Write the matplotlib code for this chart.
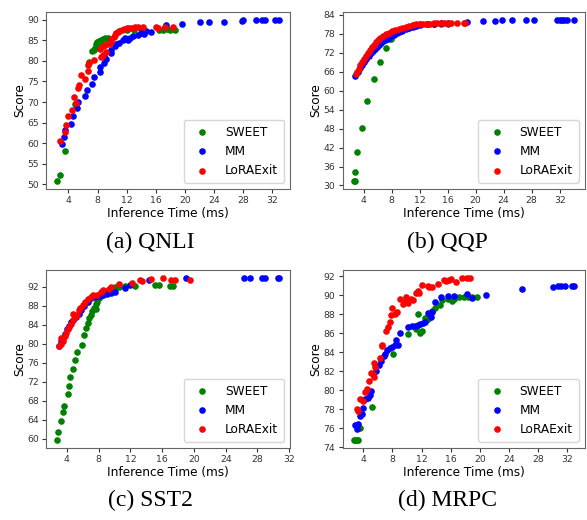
import matplotlib
matplotlib.use("Agg")
import matplotlib.pyplot as plt
from matplotlib.ticker import MultipleLocator

# QNLI
qnli_sweet_x = [2.5, 2.8, 3.5, 4.9, 6.8, 7.2, 7.5, 7.7, 7.8, 7.9, 8.0, 8.2, 8.5, 8.8, 9.0, 9.2, 9.5,
                10.5, 11.0, 12.0, 13.0, 14.0, 16.5, 17.0, 17.3, 17.5, 18.0, 18.6]
qnli_sweet_y = [50.9, 52.4, 58.2, 69.5, 79.7, 82.3, 82.5, 83.2, 84.0, 84.5, 84.3, 84.7, 85.0, 85.2, 85.5, 85.3, 85.5,
                86.8, 87.2, 87.5, 87.5, 87.8, 87.5, 87.5, 88.2, 87.6, 87.5, 87.5]
qnli_mm_x = [3.1, 3.4, 3.6, 4.4, 4.7, 5.2, 5.3, 6.3, 6.6, 7.2, 7.5, 8.3, 8.4, 8.9, 9.2, 8.9, 9.8, 9.9,
             10.4, 10.6, 10.9, 11.5, 11.8, 12.2, 12.5, 12.9, 13.6, 14.0, 14.4, 14.7, 15.3, 17.4, 19.6,
             22.1, 23.3, 25.4, 27.8, 28.0, 29.8, 30.6, 31.0, 32.3, 32.9]
qnli_mm_y = [59.8, 61.5, 63.2, 64.7, 66.7, 68.5, 70.0, 71.5, 72.8, 74.3, 76.0, 77.4, 78.4, 79.4, 80.4, 81.2, 82.0, 82.6,
             83.5, 84.0, 84.4, 85.0, 85.5, 85.0, 85.6, 86.0, 86.2, 86.8, 86.5, 87.3, 87.0, 88.8, 89.0,
             89.5, 89.5, 89.5, 89.7, 89.9, 89.9, 89.9, 89.9, 89.9, 89.9]
qnli_lora_x = [2.9, 3.6, 3.7, 4.0, 4.5, 4.8, 5.0, 5.3, 5.5, 5.7, 6.3, 6.7, 6.7, 6.8, 7.5, 8.3, 8.5, 8.8,
               9.1, 8.7, 9.0, 9.6, 9.8, 9.9, 10.2, 10.4, 10.6, 10.8, 11.0, 11.3, 11.6, 12.0, 12.3, 12.8,
               13.2, 13.6, 14.2, 16.0, 16.3, 17.3, 18.3]
qnli_lora_y = [60.6, 62.7, 64.5, 66.5, 68.0, 71.3, 69.8, 73.3, 74.2, 76.5, 75.6, 77.6, 79.0, 79.4, 80.3, 82.8, 81.0, 81.5,
               82.2, 83.5, 83.8, 84.0, 84.5, 85.3, 85.8, 86.3, 86.7, 87.0, 87.2, 87.5, 87.7, 88.0, 88.0, 88.0,
               88.2, 88.1, 88.2, 88.2, 88.0, 88.3, 88.2]

# QQP
qqp_sweet_x = [2.6, 2.7, 2.7, 3.1, 3.7, 4.5, 5.5, 6.4, 7.2, 7.9, 9.0, 10.0, 11.0, 12.0, 13.0, 14.0, 15.0, 16.0]
qqp_sweet_y = [31.5, 31.5, 34.2, 40.5, 48.2, 56.8, 63.8, 69.2, 73.6, 76.5, 79.0, 80.0, 80.8, 81.0, 81.0, 81.2, 81.2, 81.0]
qqp_mm_x = [2.8, 3.2, 3.5, 3.8, 4.1, 4.4, 4.7, 5.0, 5.3, 5.6, 5.9, 6.2, 6.5, 6.8, 7.1, 7.5, 7.9, 8.3, 8.7,
            9.1, 9.5, 10.0, 10.5, 11.0, 11.5, 12.0, 13.0, 14.0, 15.0, 16.1, 18.7, 21.1, 22.7, 23.7, 25.2,
            27.2, 28.3, 31.6, 32.0, 32.3, 32.6, 33.0, 34.0]
qqp_mm_y = [64.8, 66.0, 67.2, 68.3, 69.2, 70.2, 71.0, 71.8, 72.6, 73.3, 74.0, 74.6, 75.1, 75.6, 76.0, 76.5, 77.2, 77.8, 78.3,
            78.7, 79.0, 79.4, 79.8, 80.2, 80.5, 80.8, 81.0, 81.2, 81.3, 81.5, 81.8, 82.0, 82.2, 82.3, 82.4,
            82.4, 82.4, 82.4, 82.4, 82.4, 82.4, 82.4, 82.4]
qqp_lora_x = [2.9, 3.1, 3.3, 3.5, 3.8, 4.0, 4.3, 4.6, 4.9, 5.2, 5.5, 5.8, 6.1, 6.4, 6.8, 7.2, 7.6, 8.0, 8.5,
              9.0, 9.5, 10.0, 10.5, 11.0, 11.5, 12.0, 12.5, 13.0, 13.5, 14.0, 14.5, 15.0, 15.5, 16.0, 16.5,
              17.3, 18.4, 18.5]
qqp_lora_y = [65.2, 66.0, 67.0, 68.0, 69.0, 70.0, 71.0, 72.0, 73.0, 73.8, 74.6, 75.3, 76.0, 76.6, 77.3, 77.9, 78.4, 78.9, 79.3,
              79.7, 80.0, 80.3, 80.6, 80.8, 81.0, 81.0, 81.1, 81.2, 81.2, 81.3, 81.3, 81.4, 81.4, 81.4, 81.5,
              81.5, 81.4, 81.6]

# SST2
sst2_sweet_x = [2.8, 2.9, 3.3, 3.5, 3.6, 4.1, 4.2, 4.4, 4.7, 5.0, 5.3, 5.9, 6.2, 6.4, 6.6, 6.8, 7.0, 7.2,
                7.4, 7.6, 7.6, 7.8, 8.0, 8.3, 8.6, 9.0, 9.5, 10.0, 10.5, 11.3, 12.6, 15.1, 15.6, 17.0, 17.4]
sst2_sweet_y = [59.8, 61.5, 63.7, 65.6, 66.8, 69.3, 71.0, 73.0, 74.7, 76.5, 78.2, 79.8, 81.8, 83.3, 84.3, 85.3, 86.0, 86.8,
                87.5, 87.3, 88.3, 88.8, 89.5, 90.0, 90.5, 91.0, 91.5, 91.8, 92.0, 92.2, 92.2, 92.3, 92.3, 92.2, 92.2]
sst2_mm_x = [3.0, 3.3, 3.5, 3.8, 4.0, 4.2, 4.5, 4.8, 5.2, 5.5, 5.8, 6.2, 6.6, 7.0, 7.5, 8.0, 8.5, 9.0,
             9.5, 10.0, 11.3, 12.0, 14.3, 19.0, 26.3, 27.0, 28.6, 28.9, 30.6, 30.7]
sst2_mm_y = [79.5, 80.5, 81.2, 82.0, 83.0, 83.8, 84.5, 85.0, 85.6, 86.3, 87.0, 88.0, 88.8, 89.5, 89.8, 90.0, 90.3, 90.5,
             90.7, 90.8, 91.7, 92.3, 93.3, 93.7, 93.8, 93.8, 93.8, 93.8, 93.8, 93.7]
sst2_lora_x = [3.0, 3.2, 3.3, 3.5, 3.7, 3.9, 4.1, 4.3, 4.5, 4.7, 4.8, 5.0, 5.3, 5.5, 5.7, 6.0, 6.3, 6.6,
               7.0, 7.3, 7.8, 8.3, 8.5, 9.3, 9.6, 10.5, 12.2, 13.2, 13.4, 14.6, 16.1, 17.1, 17.6, 19.5]
sst2_lora_y = [79.5, 80.0, 81.2, 80.5, 81.5, 82.3, 83.0, 83.5, 84.2, 85.0, 86.3, 85.5, 86.0, 87.0, 87.5, 88.2, 88.8, 89.3,
               89.8, 90.2, 90.3, 90.8, 91.2, 91.5, 91.9, 92.5, 92.7, 93.3, 93.1, 93.5, 93.7, 93.4, 93.4, 93.3]

# MRPC
mrpc_sweet_x = [2.7, 2.9, 3.1, 3.3, 3.5, 5.2, 8.1, 10.1, 11.2, 11.5, 11.8, 12.0, 12.5, 12.9, 13.4, 13.9,
                14.6, 14.8, 15.6, 16.2, 16.4, 17.2, 17.8, 18.4, 18.9, 19.6]
mrpc_sweet_y = [74.8, 74.8, 74.8, 74.8, 76.0, 78.2, 83.8, 85.9, 86.4, 88.0, 86.0, 86.2, 87.6, 87.5, 88.3, 88.6,
                89.0, 89.5, 89.6, 89.4, 89.6, 89.8, 89.8, 89.8, 89.8, 89.8]
mrpc_mm_x = [2.9, 3.1, 3.3, 3.5, 3.8, 3.9, 4.2, 4.6, 4.9, 5.1, 5.7, 6.1, 6.5, 6.8, 7.0, 7.3, 7.7, 8.0,
             8.4, 8.5, 8.8, 9.0, 10.1, 10.7, 11.1, 11.5, 11.8, 12.2, 12.5, 12.9, 13.3, 13.5, 13.9, 14.7,
             15.7, 16.4, 18.2, 18.9, 20.8, 25.8, 30.0, 30.7, 31.2, 31.7, 32.7, 32.9]
mrpc_mm_y = [76.3, 75.9, 76.4, 77.3, 77.5, 78.1, 79.1, 79.2, 79.5, 79.9, 82.0, 82.6, 83.1, 83.6, 83.8, 84.2, 84.4, 84.5,
             84.8, 85.3, 84.8, 86.0, 86.6, 86.7, 86.7, 86.9, 87.0, 87.1, 87.2, 88.1, 87.7, 88.2, 89.3, 89.8,
             89.9, 89.9, 90.1, 89.7, 90.0, 90.6, 90.85, 91.0, 91.0, 91.0, 91.0, 91.0]
mrpc_lora_x = [3.1, 3.3, 3.6, 3.9, 4.3, 4.5, 4.8, 5.1, 5.4, 5.5, 5.6, 5.5, 6.3, 6.6, 6.6, 7.1, 7.4, 7.7,
               7.8, 8.0, 8.4, 8.7, 9.0, 9.4, 9.7, 9.9, 10.1, 10.5, 10.9, 11.3, 11.5, 11.7, 12.1, 12.9, 13.0,
               13.5, 14.2, 15.1, 15.4, 15.8, 16.0, 16.8, 17.5, 18.3, 18.7]
mrpc_lora_y = [78.0, 77.8, 79.1, 78.9, 79.8, 80.1, 81.0, 81.8, 81.7, 82.9, 82.4, 81.4, 83.4, 84.8, 84.6, 86.2, 86.6, 87.2,
               87.9, 88.6, 88.0, 88.2, 89.6, 89.1, 89.3, 89.8, 89.2, 89.6, 89.5, 90.2, 90.4, 90.2, 91.1, 91.0, 90.8,
               90.9, 91.2, 91.6, 91.5, 91.6, 91.7, 91.4, 91.8, 91.8, 91.8]

panels = [
    ("(a) QNLI", qnli_sweet_x, qnli_sweet_y, qnli_mm_x, qnli_mm_y, qnli_lora_x, qnli_lora_y, 5),
    ("(b) QQP", qqp_sweet_x, qqp_sweet_y, qqp_mm_x, qqp_mm_y, qqp_lora_x, qqp_lora_y, 6),
    ("(c) SST2", sst2_sweet_x, sst2_sweet_y, sst2_mm_x, sst2_mm_y, sst2_lora_x, sst2_lora_y, 4),
    ("(d) MRPC", mrpc_sweet_x, mrpc_sweet_y, mrpc_mm_x, mrpc_mm_y, mrpc_lora_x, mrpc_lora_y, 2),
]

positions = [
    [0.079, 0.637, 0.415, 0.340],
    [0.584, 0.637, 0.412, 0.340],
    [0.079, 0.139, 0.415, 0.342],
    [0.584, 0.139, 0.412, 0.342],
]
caption_pos = [(0.256, 0.533), (0.763, 0.533), (0.256, 0.038), (0.763, 0.038)]

fig = plt.figure(figsize=(5.87, 5.2), dpi=100)

for i, (title, sx, sy, mx, my, lx, ly, ystep) in enumerate(panels):
    ax = fig.add_axes(positions[i])
    ax.scatter(sx, sy, s=14, color="green", label="SWEET")
    ax.scatter(mx, my, s=14, color="blue", label="MM")
    ax.scatter(lx, ly, s=14, color="red", label="LoRAExit")
    ax.xaxis.set_major_locator(MultipleLocator(4))
    ax.yaxis.set_major_locator(MultipleLocator(ystep))
    ax.tick_params(labelsize=6.7, colors="#333333", length=3, pad=2.5)
    for sp in ax.spines.values():
        sp.set_color("#666666")
    ax.set_xlabel("Inference Time (ms)", fontsize=8.7, labelpad=1.5)
    ax.set_ylabel("Score", fontsize=8.7, labelpad=0.5)
    ax.legend(loc="lower right", fontsize=8.7, scatterpoints=1, handletextpad=0.9, borderpad=0.5)
    fig.text(caption_pos[i][0], caption_pos[i][1], title, ha="center", va="center",
             fontsize=17, family="Liberation Serif")

fig.savefig("out.png", dpi=100)
